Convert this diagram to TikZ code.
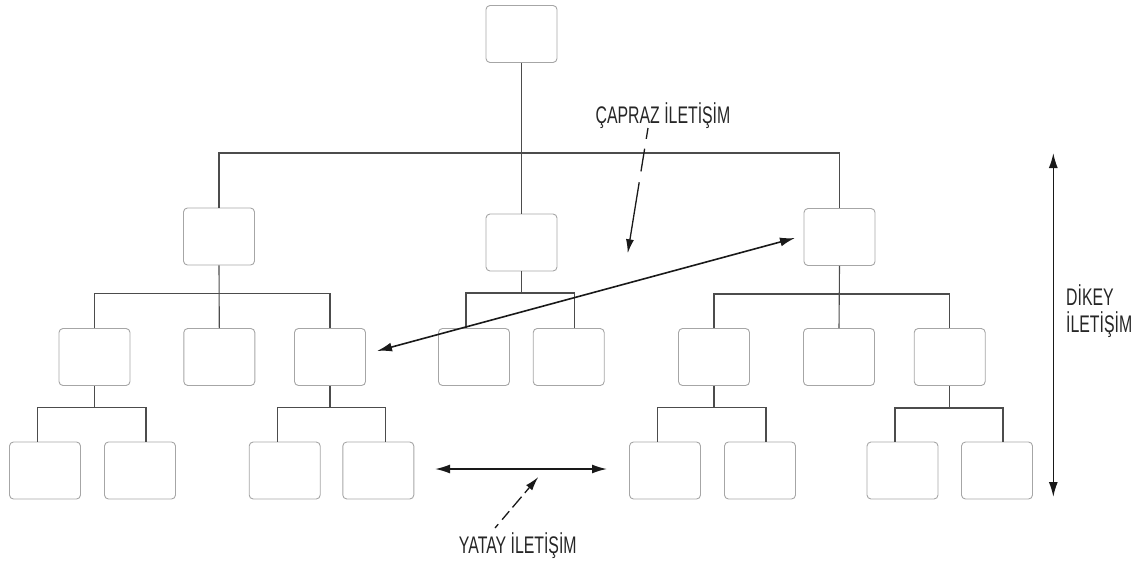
\documentclass[tikz,border=0pt]{standalone}
\usepackage{fontspec}
\setmainfont{Liberation Sans}
\newfontfamily\narrowfont[FakeStretch=0.66]{Liberation Sans}
\usetikzlibrary{arrows.meta,calc}

\begin{document}
\begin{tikzpicture}[x=1pt,y=-1pt,
  box/.style={draw=black!35, line width=0.9pt, rounded corners=4pt,
    minimum width=71pt, minimum height=57pt, inner sep=0pt},
  conn/.style={draw=black!70, line width=1.1pt},
  comm/.style={draw=black!90, line width=1.6pt,
    {Latex[length=15pt,width=9pt]}-{Latex[length=15pt,width=9pt]}},
  pointer/.style={draw=black!90, line width=1.3pt, -{Latex[length=14pt,width=8pt]}},
  lbl/.style={font=\narrowfont\fontsize{24}{26.7}\selectfont, text=black!85, inner sep=0pt}]

\useasboundingbox (0,0) rectangle (1142,562);

% top of the hierarchy
\node[box] (top) at (521.5,34) {};

% second level
\node[box] (m1) at (219,236.5) {};
\node[box] (m2) at (521.5,242.5) {};
\node[box] (m3) at (839.5,237) {};

% third level
\node[box] (a1) at (94.5,357) {};
\node[box] (a2) at (219.3,357) {};
\node[box] (a3) at (330,357) {};
\node[box] (b1) at (474,357) {};
\node[box] (b2) at (568.7,357) {};
\node[box] (c1) at (714,357) {};
\node[box] (c2) at (839,357) {};
\node[box] (c3) at (949.7,357) {};

% fourth level
\node[box] (d1) at (45,470.5) {};
\node[box] (d2) at (140,470.5) {};
\node[box] (e1) at (284.7,470.5) {};
\node[box] (e2) at (378.3,470.5) {};
\node[box] (f1) at (665,470.5) {};
\node[box] (f2) at (760,470.5) {};
\node[box] (g1) at (902.5,470.5) {};
\node[box] (g2) at (997,470.5) {};

% junctions of the connector buses
\coordinate (j0) at (521.5,153);
\coordinate (j1) at (219,293.3);
\coordinate (j2) at (521.5,293);
\coordinate (j3) at (839.5,294);
\coordinate (k1) at (94.5,407.5);
\coordinate (k2) at (330,407.5);
\coordinate (k3) at (714,407.5);
\coordinate (k4) at (949.7,408);

% tree connectors
\draw[conn] (top.south) -- (m2.north);
\draw[conn] (m1.north) |- (j0) -| (m3.north);

\draw[conn] (m1.south) -- (a2.north);
\draw[conn] (a1.north) |- (j1) -| (a3.north);

\draw[conn] (m2.south) -- (j2);
\draw[conn] ([xshift=-8pt]b1.north) |- (j2) -| ([xshift=5.5pt]b2.north);

\draw[conn] (m3.south) -- (c2.north);
\draw[conn] (c1.north) |- (j3) -| (c3.north);

\draw[conn] (a1.south) -- (k1);
\draw[conn] ([xshift=-7.5pt]d1.north) |- (k1) -| ([xshift=6pt]d2.north);
\draw[conn] (a3.south) -- (k2);
\draw[conn] ([xshift=-7.5pt]e1.north) |- (k2) -| ([xshift=7.5pt]e2.north);
\draw[conn] (c1.south) -- (k3);
\draw[conn] ([xshift=-7.5pt]f1.north) |- (k3) -| ([xshift=6pt]f2.north);
\draw[conn] (c3.south) -- (k4);
\draw[conn] ([xshift=-7.5pt]g1.north) |- (k4) -| ([xshift=6pt]g2.north);

% communication arrows
\coordinate (dl) at (377,351);
\coordinate (dr) at (795,238);
\draw[comm] (dl) -- (dr);

\coordinate (hl) at (435,469);
\coordinate (hr) at (607,469);
\draw[comm] (hl) -- (hr);

\coordinate (vt) at (1053.3,153);
\coordinate (vb) at (1053.3,497);
\draw[comm] (vt) -- (vb);

% labels
\node[lbl, anchor=base] (capraz) at (663,123.3) {ÇAPRAZ İLETİŞİM};
\node[lbl, anchor=base] (yatay) at (517.8,553.3) {YATAY İLETİŞİM};
\node[lbl, align=left, anchor=base west] (dikey) at (1066,332.3) {DİKEY\\İLETİŞİM};

% label pointers
\coordinate (cp0) at (648,128);
\coordinate (cp1) at (627.7,253.3);
\draw[pointer, dash pattern=on 11pt off 10pt on 23pt off 11pt on 200pt] (cp0) -- (cp1);

\coordinate (yp0) at (495,528);
\coordinate (yp1) at (538.3,477);
\draw[pointer, dash pattern=on 5pt off 6pt on 11pt off 5pt on 14pt off 5pt on 100pt] (yp0) -- (yp1);
\end{tikzpicture}
\end{document}
